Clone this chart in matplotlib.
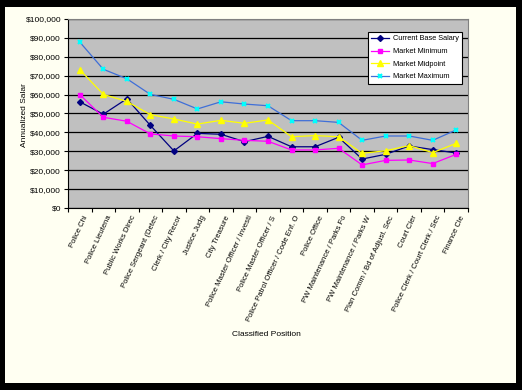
import numpy as np
import matplotlib.pyplot as plt
from matplotlib.patches import Rectangle
from matplotlib.ticker import FuncFormatter

plt.rcParams['font.family'] = ['Liberation Sans', 'DejaVu Sans']

# positions (labels are truncated in the original chart)
positions = [
    'Police Chi', 'Police Lieutena', 'Public Works Direc', 'Police Sergeant (Detec',
    'Clerk / City Recor', 'Justice Judg', 'City Treasure', 'Police Master Officer / Investi',
    'Police Master Officer / S', 'Police Patrol Officer / Code Enf. O', 'Police Office',
    'PW Maintenance / Parks Fo', 'PW Maintenance / Parks W', 'Plan Comm / Bd of Adjust. Sec',
    'Court Cler', 'Police Clerk / Court Clerk / Sec', 'Finance Cle',
]

current_base = [56200, 49600, 57800, 43700, 30200, 39500, 39000, 35100, 37900,
                32400, 32400, 37400, 25900, 28400, 32800, 30900, 29100]
market_min = [60000, 48000, 45900, 39200, 38100, 37700, 36700, 35800, 35300,
              30700, 30700, 31600, 22800, 25200, 25400, 23500, 28400]
market_mid = [73200, 60100, 56400, 49400, 47100, 44400, 46400, 44800, 46600,
              37700, 38300, 37700, 28900, 30300, 33000, 29300, 34200]
market_max = [87800, 73400, 68400, 60100, 57500, 52400, 56200, 55000, 54100,
              46200, 46200, 45300, 35800, 38100, 38100, 35800, 41300]

fig = plt.figure(figsize=(5.22, 3.9), dpi=100, facecolor='black')
# ivory chart area inside the black frame
fig.patches.append(Rectangle((5/522, 7/390), 511/522, 376/390,
                             transform=fig.transFigure, facecolor='#FFFFF2',
                             edgecolor='none', zorder=-10))

ax = fig.add_axes([68/522, 1 - 208/390, 400/522, 189/390])
ax.set_facecolor('#C0C0C0')

x = np.arange(len(positions))
ax.plot(x, current_base, color='#000080', marker='D', markersize=3, lw=0.9, label='Current Base Salary')
ax.plot(x, market_min, color='#FF00FF', marker='s', markersize=3.5, lw=0.9, label='Market Minimum')
ax.plot(x, market_mid, color='#FFFF00', marker='^', markersize=4, lw=0.9, label='Market Midpoint')
ax.plot(x, market_max, color='#3F6FD8', marker='x', markersize=3.5, mec='#00FFFF',
        mew=1.5, lw=0.9, label='Market Maximum')

ax.set_xlim(-0.5, len(positions) - 0.5)
ax.set_ylim(0, 100000)
ax.set_yticks(np.arange(0, 100001, 10000))
ax.yaxis.set_major_formatter(FuncFormatter(lambda v, p: f'${v:,.0f}'))
ax.grid(axis='y', color='black', lw=0.9)
ax.set_axisbelow(True)

# tick marks between categories, labels at centres
ax.set_xticks(np.arange(-0.5, len(positions), 1))
ax.set_xticklabels([])
ax.tick_params(axis='x', length=3, width=0.8, direction='out')
ax.tick_params(axis='y', length=3, width=0.8, direction='out', labelsize=6, pad=2)
for i, name in enumerate(positions):
    ax.text(i + 0.15, -3500, name, rotation=65, ha='right', va='top',
            rotation_mode='anchor', fontsize=5.5)

for s in ['left', 'bottom']:
    ax.spines[s].set_color('black')
for s in ['top', 'right']:
    ax.spines[s].set_color('#808080')

fig.text(25/522, 1 - 115/390, 'Annualized Salar', rotation=90, ha='center', va='center', fontsize=6)
fig.text(266/522, 1 - 335/390, 'Classified Position', ha='center', va='center', fontsize=6)

leg = ax.legend(loc='upper left', bbox_to_anchor=(368/522, 1 - 32/390),
                bbox_transform=fig.transFigure, borderaxespad=0, fontsize=5.3,
                fancybox=False, framealpha=1, edgecolor='black', handlelength=2.4,
                handletextpad=0.5, labelspacing=0.75, borderpad=0.45)
leg.get_frame().set_linewidth(0.8)

plt.savefig('out.png', dpi=100, facecolor=fig.get_facecolor())
